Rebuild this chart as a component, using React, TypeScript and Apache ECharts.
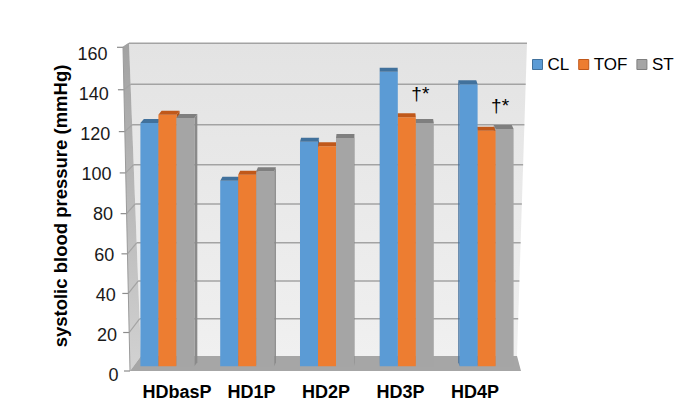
import React, { useEffect, useRef } from 'react';
import * as echarts from 'echarts';

// ---- data ----
const CATEGORIES = ['HDbasP', 'HD1P', 'HD2P', 'HD3P', 'HD4P'];
const SERIES_NAMES = ['CL', 'TOF', 'ST'];
const CL = [127.5, 98.7, 118.1, 153.0, 146.7];
const TOF = [131.6, 101.7, 115.9, 130.3, 123.6];
const ST = [129.9, 103.4, 120.0, 127.5, 124.5];
const SIG = ['', '', '', '†*', '†*'];
const Y_TICKS = [0, 20, 40, 60, 80, 100, 120, 140, 160];
const Y_TITLE = 'systolic blood pressure (mmHg)';

// ---- styles / geometry ----
const FONT = 'Arial, "Liberation Sans", Helvetica, sans-serif';
const PALETTE = [
  { front: '#5B9BD5', top: '#41719C', side: '#3F6C99' },
  { front: '#ED7D31', top: '#C0581A', side: '#B05216' },
  { front: '#A5A5A5', top: '#7F7F7F', side: '#8A8A8A' },
];
const BAR_FRAC = 0.2256;
const CAP_H = 4;
const FLOOR_LIFT = 9;
const VANISH_X = 380;
const PERSP_K = 0.015;

// 3D box (decoration)
const WALL_TL = [129, 43];
const WALL_TR = [527, 43];
const WALL_BR = [517, 356];
const WALL_BL = [141, 356];
const LEFT_FRONT_TOP = [123, 47];
const LEFT_FRONT_BOT = [130, 371];
const FLOOR_FRONT_R = [521, 371];
const GRID_COLOR = '#a3a3a3';
const TITLE_POS = [60, 206];

const backY = (v: number) => 356 - 1.8457 * v * (1 + 0.000368 * v);
const wallLeftX = (y: number) => WALL_TL[0] + ((y - WALL_TL[1]) * (WALL_BL[0] - WALL_TL[0])) / (WALL_BL[1] - WALL_TL[1]);
const wallRightX = (y: number) => WALL_TR[0] + ((y - WALL_TR[1]) * (WALL_BR[0] - WALL_TR[0])) / (WALL_BR[1] - WALL_TR[1]);
const frontDy = (y: number) => 4 + ((y - 43) * 11) / 313;
const frontX = (y: number) =>
  LEFT_FRONT_TOP[0] + ((y - LEFT_FRONT_TOP[1]) * (LEFT_FRONT_BOT[0] - LEFT_FRONT_TOP[0])) / (LEFT_FRONT_BOT[1] - LEFT_FRONT_TOP[1]);

function buildGraphic() {
  const els: any[] = [];
  els.push({
    type: 'polygon',
    silent: true,
    z: -10,
    shape: { points: [WALL_TL, WALL_TR, WALL_BR, WALL_BL] },
    style: {
      fill: new echarts.graphic.LinearGradient(0, 0, 0, 1, [
        { offset: 0, color: '#e3e3e3' },
        { offset: 1, color: '#f0f0f0' },
      ]),
    },
  });
  els.push({
    type: 'polygon',
    silent: true,
    z: -10,
    shape: { points: [LEFT_FRONT_TOP, WALL_TL, WALL_BL, LEFT_FRONT_BOT] },
    style: {
      fill: new echarts.graphic.LinearGradient(0, 0, 0, 1, [
        { offset: 0, color: '#a2a2a2' },
        { offset: 1, color: '#d2d2d2' },
      ]),
    },
  });
  els.push({
    type: 'polygon',
    silent: true,
    z: -10,
    shape: { points: [WALL_BL, WALL_BR, FLOOR_FRONT_R, LEFT_FRONT_BOT] },
    style: { fill: '#a6a6a6' },
  });
  Y_TICKS.forEach((v) => {
    const yb = backY(v);
    const xl = wallLeftX(yb);
    const yf = yb + frontDy(yb);
    const xf = frontX(yf);
    if (v > 0) {
      els.push({
        type: 'line',
        silent: true,
        z: -9,
        shape: { x1: xl, y1: yb, x2: wallRightX(yb), y2: yb },
        style: { stroke: GRID_COLOR, lineWidth: 1.5 },
      });
      els.push({
        type: 'line',
        silent: true,
        z: -9,
        shape: { x1: xf, y1: yf, x2: xl, y2: yb },
        style: { stroke: GRID_COLOR, lineWidth: 1.2 },
      });
    }
    els.push({
      type: 'line',
      silent: true,
      z: -9,
      shape: { x1: xf - 6, y1: yf, x2: xf, y2: yf },
      style: { stroke: '#8c8c8c', lineWidth: 1.2 },
    });
  });
  els.push({
    type: 'line',
    silent: true,
    z: -9,
    shape: { x1: LEFT_FRONT_TOP[0], y1: LEFT_FRONT_TOP[1], x2: LEFT_FRONT_BOT[0], y2: LEFT_FRONT_BOT[1] },
    style: { stroke: '#9a9a9a', lineWidth: 1 },
  });
  els.push({
    type: 'text',
    silent: true,
    x: TITLE_POS[0],
    y: TITLE_POS[1],
    rotation: Math.PI / 2,
    style: {
      text: Y_TITLE,
      fill: '#000',
      fontSize: 18.5,
      fontWeight: 'bold',
      fontFamily: FONT,
      align: 'center',
      verticalAlign: 'middle',
    },
  });
  return els;
}

function barRender(sIdx: number) {
  return (params: any, api: any) => {
    const i = api.value(0);
    const v = api.value(1);
    const p0 = api.coord([i, 0]);
    const pt = api.coord([i, v]);
    const band = api.size([1, 0])[0];
    const w = band * BAR_FRAC;
    const x0 = p0[0] + (sIdx - 1.5) * w;
    const x1 = x0 + w;
    const base = p0[1] - FLOOR_LIFT;
    const yTop = pt[1];
    const yF = yTop + CAP_H;
    const dx = (VANISH_X - (x0 + x1) / 2) * PERSP_K;
    const c = PALETTE[sIdx];
    const order = dx > 0 ? sIdx : 2 - sIdx;
    const zb = order * 3;
    const sidePts =
      dx > 0
        ? [[x1, yF], [x1 + dx, yTop], [x1 + dx, base - CAP_H], [x1, base]]
        : [[x0, yF], [x0 + dx, yTop], [x0 + dx, base - CAP_H], [x0, base]];
    return {
      type: 'group',
      children: [
        { type: 'polygon', z2: zb, shape: { points: sidePts }, style: { fill: c.side } },
        { type: 'rect', z2: zb + 1, shape: { x: x0, y: yF, width: w, height: base - yF }, style: { fill: c.front } },
        {
          type: 'polygon',
          z2: zb + 2,
          shape: { points: [[x0, yF], [x1, yF], [x1 + dx, yTop], [x0 + dx, yTop]] },
          style: { fill: c.top },
        },
      ],
    };
  };
}

const SERIES_VALUES = [CL, TOF, ST];

export default function App() {
  const ref = useRef<HTMLDivElement>(null);
  useEffect(() => {
    document.body.style.margin = '0';
    document.body.style.overflow = 'hidden';
    const chart = echarts.init(ref.current!, undefined, { renderer: 'svg' });
    const rich: Record<string, any> = {};
    Y_TICKS.forEach((v) => {
      rich['t' + v] = { padding: [0, (v * 11) / 160, 0, 0], fontSize: 18, fontFamily: FONT, color: '#1a1a1a' };
    });
    const option: any = {
      animation: false,
      backgroundColor: '#ffffff',
      textStyle: { fontFamily: FONT },
      graphic: buildGraphic(),
      grid: [
        { left: 127.5, top: 53.6, width: 399, height: 321.6 },
        { left: 139.75, top: 53.6, width: 372.5, height: 321.6 },
      ],
      xAxis: [
        { type: 'category', gridIndex: 0, data: CATEGORIES, show: false },
        {
          type: 'category',
          gridIndex: 1,
          data: CATEGORIES,
          axisLine: { show: false },
          axisTick: { show: false },
          axisLabel: { interval: 0, fontSize: 18, fontWeight: 'bold', color: '#000', fontFamily: FONT, margin: 8 },
        },
      ],
      yAxis: [
        {
          type: 'value',
          gridIndex: 0,
          min: 0,
          max: 160,
          interval: 20,
          axisLine: { show: false },
          axisTick: { show: false },
          splitLine: { show: false },
          axisLabel: {
            margin: 9,
            formatter: (val: number) => `{t${val}|${val}}`,
            rich,
          },
        },
        { type: 'value', gridIndex: 1, min: 0, max: 160, show: false, splitLine: { show: false } },
      ],
      legend: {
        left: 532,
        top: 56,
        width: 150,
        padding: 0,
        itemWidth: 10,
        itemHeight: 10,
        itemGap: 9,
        textStyle: { fontSize: 17, color: '#000', fontFamily: FONT },
        data: SERIES_NAMES.map((n, k) => ({
          name: n,
          icon: 'rect',
          itemStyle: { color: PALETTE[k].front, borderColor: PALETTE[k].top, borderWidth: 1 },
        })),
      },
      series: [
        ...SERIES_NAMES.map((n, k) => ({
          type: 'custom',
          name: n,
          xAxisIndex: 0,
          yAxisIndex: 0,
          itemStyle: { color: PALETTE[k].front },
          data: SERIES_VALUES[k].map((v, i) => [i, v]),
          encode: { x: 0, y: 1 },
          renderItem: barRender(k),
        })),
        {
          type: 'custom',
          name: 'sig',
          xAxisIndex: 0,
          yAxisIndex: 0,
          z: 5,
          data: SIG.map((s, i) => [i, Math.max(TOF[i], ST[i])]),
          encode: { x: 0, y: 1 },
          renderItem: (params: any, api: any) => {
            const label = SIG[params.dataIndex];
            if (!label) return null;
            const p = api.coord([api.value(0), api.value(1)]);
            const w = api.size([1, 0])[0] * BAR_FRAC;
            return {
              type: 'text',
              x: p[0] + 0.75 * w,
              y: p[1] - 10,
              style: {
                text: label,
                fill: '#000',
                fontSize: 19,
                fontFamily: FONT,
                align: 'center',
                verticalAlign: 'bottom',
              },
            };
          },
        },
      ],
    };
    chart.setOption(option);
    return () => chart.dispose();
  }, []);
  return <div ref={ref} style={{ width: 676, height: 419 }} />;
}
